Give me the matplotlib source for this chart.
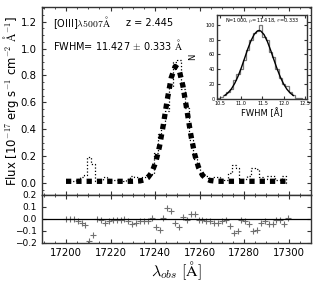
import matplotlib
matplotlib.use("Agg")
import matplotlib.pyplot as plt
from matplotlib.ticker import MultipleLocator

plt.rcParams['mathtext.fontset'] = 'cm'
plt.rcParams['font.family'] = ['DejaVu Sans']

# spectral grid [Angstrom]
wave = [17200.00, 17201.75, 17203.50, 17205.25, 17207.00, 17208.75, 17210.50, 17212.25,
        17214.00, 17215.75, 17217.50, 17219.25, 17221.00, 17222.75, 17224.50, 17226.25,
        17228.00, 17229.75, 17231.50, 17233.25, 17235.00, 17236.75, 17238.50, 17240.25,
        17242.00, 17243.75, 17245.50, 17247.25, 17249.00, 17250.75, 17252.50, 17254.25,
        17256.00, 17257.75, 17259.50, 17261.25, 17263.00, 17264.75, 17266.50, 17268.25,
        17270.00, 17271.75, 17273.50, 17275.25, 17277.00, 17278.75, 17280.50, 17282.25,
        17284.00, 17285.75, 17287.50, 17289.25, 17291.00, 17292.75, 17294.50, 17296.25,
        17298.00, 17299.75]

# observed flux (thin dotted)
flux = [0.012, 0.012, 0.012, 0.032, 0.042, 0.062, 0.192, 0.142,
        0.012, 0.022, 0.042, 0.032, 0.022, 0.022, 0.022, 0.012,
        0.032, 0.052, 0.043, 0.035, 0.042, 0.059, 0.068, 0.222,
        0.363, 0.428, 0.534, 0.714, 0.897, 0.914, 0.702, 0.555,
        0.323, 0.175, 0.125, 0.068, 0.050, 0.038, 0.044, 0.042,
        0.032, 0.022, 0.072, 0.132, 0.112, 0.022, 0.032, 0.052,
        0.112, 0.102, 0.042, 0.032, 0.052, 0.052, 0.022, 0.022,
        0.052, 0.002]

# model fit (thick dotted)
model = [0.012, 0.012, 0.012, 0.012, 0.012, 0.012, 0.012, 0.012,
         0.012, 0.012, 0.012, 0.012, 0.012, 0.012, 0.012, 0.012,
         0.012, 0.012, 0.013, 0.015, 0.022, 0.039, 0.078, 0.152,
         0.273, 0.438, 0.624, 0.784, 0.867, 0.844, 0.722, 0.545,
         0.363, 0.215, 0.115, 0.058, 0.030, 0.018, 0.014, 0.012,
         0.012, 0.012, 0.012, 0.012, 0.012, 0.012, 0.012, 0.012,
         0.012, 0.012, 0.012, 0.012, 0.012, 0.012, 0.012, 0.012,
         0.012, 0.012]

# residuals (model - data)
resid = [0.00, 0.00, 0.00, -0.02, -0.03, -0.05, -0.18, -0.13,
         0.00, -0.01, -0.03, -0.02, -0.01, -0.01, -0.01, 0.00,
         -0.02, -0.04, -0.03, -0.02, -0.02, -0.02, 0.01, -0.07,
         -0.09, 0.01, 0.09, 0.07, -0.03, -0.07, 0.02, -0.01,
         0.04, 0.04, -0.01, -0.01, -0.02, -0.02, -0.03, -0.03,
         -0.02, -0.01, -0.06, -0.12, -0.10, -0.01, -0.02, -0.04,
         -0.10, -0.09, -0.03, -0.02, -0.04, -0.04, -0.01, -0.01,
         -0.04, 0.01]

# inset: FWHM distribution from 1000 realisations
hist_edges = [10.420, 10.497, 10.574, 10.651, 10.728, 10.805, 10.882, 10.959, 11.036,
              11.113, 11.190, 11.267, 11.344, 11.421, 11.498, 11.575, 11.652, 11.729,
              11.806, 11.883, 11.960, 12.037, 12.114, 12.191, 12.268, 12.345, 12.422]
hist_counts = [1, 3, 5, 9, 14, 26, 33, 41, 52, 66, 80, 89, 92, 100, 84, 80, 63, 57,
               40, 28, 20, 17, 9, 5, 2, 1]
fit_x = [10.612, 10.689, 10.766, 10.843, 10.920, 10.997, 11.074, 11.151, 11.228, 11.305,
         11.382, 11.418, 11.459, 11.536, 11.613, 11.690, 11.767, 11.844, 11.921, 11.998,
         12.075, 12.152, 12.229]
fit_y = [4.9, 8.4, 13.5, 20.8, 30.1, 41.4, 54.1, 67.0, 78.3, 87.0,
         91.6, 92.2, 91.5, 86.7, 77.7, 66.0, 53.2, 40.7, 29.5, 20.3,
         13.2, 8.1, 4.7]

fig = plt.figure(figsize=(3.2, 2.84), dpi=100)
W, H = 320.0, 284.0
def rect(x0, y0, x1, y1):
    return [x0 / W, 1 - y1 / H, (x1 - x0) / W, (y1 - y0) / H]
def fx(x):
    return x / W
def fy(y):
    return 1 - y / H

ax = fig.add_axes(rect(41.5, 7, 311, 195))
axr = fig.add_axes(rect(41.5, 195, 311, 243))
axi = fig.add_axes(rect(216.7, 15, 307, 99))

spine_col = '#333333'
for a in (ax, axr, axi):
    for s in a.spines.values():
        s.set_color(spine_col)
        s.set_linewidth(1.0)

# main panel
ax.plot(wave, flux, color='black', lw=0.9, ls=':', drawstyle='steps-mid')
ax.plot(wave, model, color='black', lw=3.8, ls=(0, (1, 0.95)))
ax.set_xlim(17189, 17310)
ax.set_ylim(-0.09, 1.31)
ax.yaxis.set_major_locator(MultipleLocator(0.2))
ax.yaxis.set_minor_locator(MultipleLocator(0.05))
ax.xaxis.set_major_locator(MultipleLocator(20))
ax.xaxis.set_minor_locator(MultipleLocator(5))
ax.tick_params(which='both', direction='in', top=True, right=True, labelbottom=False,
               labelsize=7.3, length=3, color=spine_col)
ax.tick_params(which='minor', length=1.5)
fig.text(fx(11), fy(101), r'Flux [10$^{-17}$ erg s$^{-1}$ cm$^{-2}$ $\mathrm{\AA}^{-1}$]',
         fontsize=8.4, rotation=90, ha='center', va='center')
fig.text(fx(53), fy(23), r'[OIII]$\lambda5007\mathrm{\AA}$', fontsize=7, va='center')
fig.text(fx(126), fy(23), 'z = 2.445', fontsize=7, va='center')
fig.text(fx(53), fy(45), r'FWHM= 11.427 $\pm$ 0.333 $\mathrm{\AA}$', fontsize=7, va='center')

# residual panel
axr.plot(wave, resid, ls='none', marker='+', ms=5, mew=0.8, color='#707070')
axr.axhline(0, color='black', lw=0.9)
axr.set_xlim(17189, 17310)
axr.set_ylim(-0.2, 0.2)
axr.yaxis.set_major_locator(MultipleLocator(0.1))
axr.xaxis.set_major_locator(MultipleLocator(20))
axr.xaxis.set_minor_locator(MultipleLocator(5))
axr.tick_params(which='both', direction='in', top=True, right=True, labelsize=7.3,
                length=3, color=spine_col)
axr.tick_params(axis='y', labelsize=6.5)
axr.tick_params(which='minor', length=1.5)
fig.text(fx(176), fy(271), r'$\lambda_{obs}\ [\mathrm{\AA}]$', fontsize=11.5,
         ha='center', va='center')

# inset
axi.stairs(hist_counts, hist_edges, color='#777777', lw=0.9)
axi.plot(fit_x, fit_y, color='black', lw=1.0)
axi.set_xlim(10.42, 12.55)
axi.set_ylim(0, 113)
axi.xaxis.set_major_locator(MultipleLocator(0.5))
axi.yaxis.set_major_locator(MultipleLocator(20))
axi.tick_params(which='both', direction='in', top=True, right=True, labelsize=3.5,
                length=2, pad=1.5, color=spine_col)
axi.set_xlabel(r'FWHM [Å]', fontsize=6, labelpad=2)
axi.set_ylabel('N', fontsize=6, labelpad=6)
axi.text(0.5, 0.94, r'N=1000, $\mu$=11.418, $\sigma$=0.333', transform=axi.transAxes,
         ha='center', va='center', fontsize=3.6)

fig.savefig('out.png', dpi=100)
